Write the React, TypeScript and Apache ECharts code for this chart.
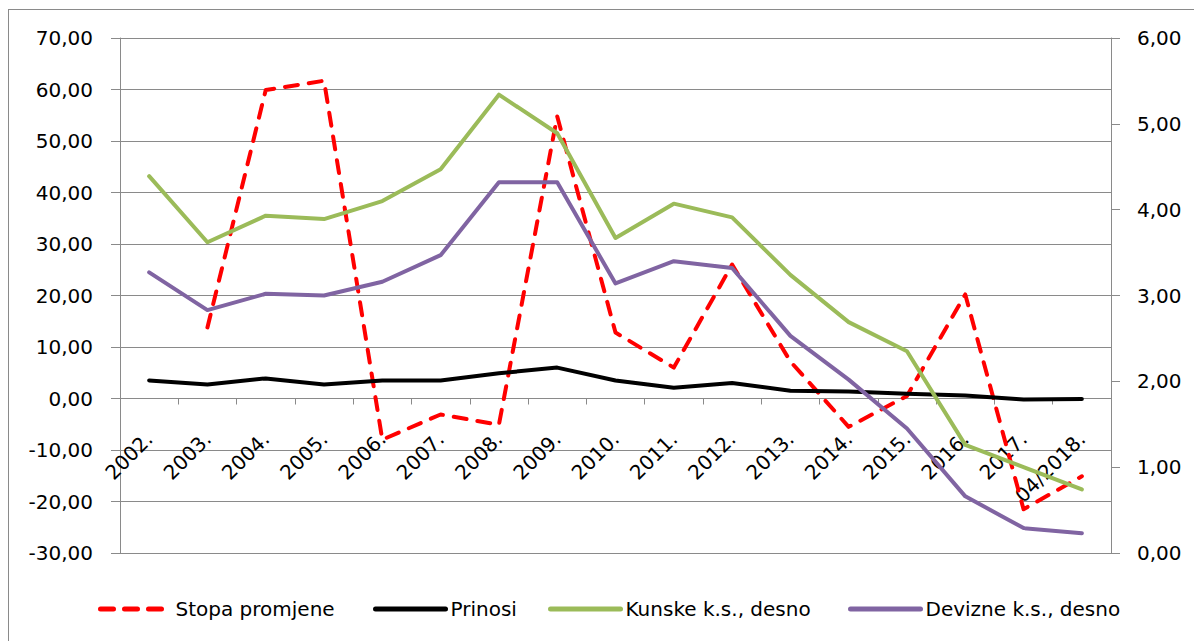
import React, { useEffect, useRef } from "react";
import * as echarts from "echarts";

const categories = ["2002.", "2003.", "2004.", "2005.", "2006.", "2007.", "2008.", "2009.", "2010.", "2011.", "2012.", "2013.", "2014.", "2015.", "2016.", "2017.", "04/2018."];
const stopaPromjene = [null, 13.8, 59.9, 61.7, -8.0, -3.1, -5.1, 54.8, 12.8, 6.0, 26.0, 7.2, -5.5, 0.5, 20.2, -21.5, -15.1];
const prinosi = [3.5, 2.7, 3.9, 2.7, 3.5, 3.5, 4.9, 6.0, 3.5, 2.1, 3.0, 1.5, 1.35, 0.9, 0.6, -0.2, -0.1];
const kunske = [4.39, 3.62, 3.93, 3.89, 4.10, 4.47, 5.34, 4.89, 3.67, 4.07, 3.91, 3.24, 2.69, 2.35, 1.26, 1.0, 0.74];
const devizne = [3.27, 2.83, 3.02, 3.00, 3.16, 3.47, 4.32, 4.32, 3.14, 3.40, 3.32, 2.53, 2.02, 1.45, 0.66, 0.29, 0.23];
const seriesNames = ["Stopa promjene", "Prinosi", "Kunske k.s., desno", "Devizne k.s., desno"];
const seriesColors = ["#ff0000", "#000000", "#9bbb59", "#8064a2"];
const leftMin = -30;
const leftMax = 70;

const FONT = "DejaVu Sans";
const GRAY = "#8a8a8a";
const DASH = [13, 11];
const fmt = (v: number) => v.toFixed(2).replace(".", ",");

export default function App() {
  const ref = useRef<HTMLDivElement>(null);
  useEffect(() => {
    if (!ref.current) return;
    const chart = echarts.init(ref.current, null, { renderer: "svg" });
    const legendLefts = [84, 359, 534, 834];
    const gridHeight = 515;
    // move the category axis up to the zero line of the left value axis
    const zeroOffset = -gridHeight * (0 - leftMin) / (leftMax - leftMin);
    chart.setOption({
      animation: false,
      textStyle: { fontFamily: FONT },
      grid: { left: 111, top: 28, width: 991, height: gridHeight, containLabel: false },
      legend: seriesNames.map((n, i) => ({
        data: [n],
        left: legendLefts[i],
        top: 584,
        itemWidth: 70,
        itemHeight: 14,
        itemStyle: { opacity: 0, color: "rgba(0,0,0,0)", borderWidth: 0 },
        lineStyle: {
          width: 5,
          color: seriesColors[i],
          type: i === 0 ? DASH : "solid",
          cap: "round",
        },
        textStyle: { fontFamily: FONT, fontSize: 20, color: "#000" },
      })),
      xAxis: {
        type: "category",
        data: categories,
        boundaryGap: true,
        position: "bottom",
        offset: zeroOffset,
        axisLine: { onZero: false, lineStyle: { color: GRAY, width: 1 } },
        axisTick: { show: true, length: 6, lineStyle: { color: GRAY } },
        axisLabel: { rotate: 45, interval: 0, margin: 37, fontSize: 20, color: "#000", fontFamily: FONT },
        splitLine: { show: false },
      },
      yAxis: [
        {
          type: "value",
          min: leftMin,
          max: leftMax,
          interval: 10,
          position: "left",
          axisLine: { show: true, lineStyle: { color: GRAY } },
          axisTick: { show: true, length: 9, lineStyle: { color: GRAY } },
          axisLabel: { formatter: fmt, margin: 27, fontSize: 20, color: "#000", fontFamily: FONT },
          splitLine: { show: true, lineStyle: { color: GRAY, width: 1 } },
        },
        {
          type: "value",
          min: 0,
          max: 6,
          interval: 1,
          position: "right",
          axisLine: { show: true, lineStyle: { color: GRAY } },
          axisTick: { show: true, length: 9, lineStyle: { color: GRAY } },
          axisLabel: { formatter: fmt, margin: 26, fontSize: 20, color: "#000", fontFamily: FONT },
          splitLine: { show: false },
        },
      ],
      series: [
        {
          name: seriesNames[0],
          type: "line",
          yAxisIndex: 0,
          data: stopaPromjene,
          symbol: "none",
          connectNulls: false,
          lineStyle: { color: seriesColors[0], width: 4, type: DASH, cap: "round", join: "round" },
          itemStyle: { color: seriesColors[0] },
        },
        {
          name: seriesNames[1],
          type: "line",
          yAxisIndex: 0,
          data: prinosi,
          symbol: "none",
          lineStyle: { color: seriesColors[1], width: 4, cap: "round", join: "round" },
          itemStyle: { color: seriesColors[1] },
        },
        {
          name: seriesNames[2],
          type: "line",
          yAxisIndex: 1,
          data: kunske,
          symbol: "none",
          lineStyle: { color: seriesColors[2], width: 4, cap: "round", join: "round" },
          itemStyle: { color: seriesColors[2] },
        },
        {
          name: seriesNames[3],
          type: "line",
          yAxisIndex: 1,
          data: devizne,
          symbol: "none",
          lineStyle: { color: seriesColors[3], width: 4, cap: "round", join: "round" },
          itemStyle: { color: seriesColors[3] },
        },
      ],
    });
    return () => chart.dispose();
  }, []);
  return (
    <div
      style={{
        position: "fixed",
        left: 8,
        top: 9,
        width: 1200,
        height: 650,
        borderLeft: "1px solid #8a8a8a",
        borderTop: "1px solid #8a8a8a",
        background: "#fff",
      }}
    >
      <div ref={ref} style={{ width: 1185, height: 631 }} />
    </div>
  );
}
